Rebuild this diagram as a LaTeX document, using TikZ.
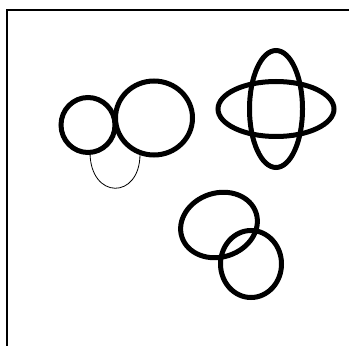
\documentclass[tikz,border=0pt]{standalone}
\tikzset{
  ring/.style={draw=black, line width=5pt},
  thinring/.style={draw=black, line width=0.8pt},
  frame/.style={draw=black, line width=1.2pt}
}
\begin{document}
\begin{tikzpicture}[x=1pt, y=-1pt]
  \useasboundingbox (0,0) rectangle (350,347);
  \coordinate (tl) at (7,10);
  \coordinate (tr) at (349,10);
  \coordinate (bl) at (7,346);
  \draw[frame] (tr) -- (tl) -- (bl);
  % left pair
  \coordinate (small) at (88,125);
  \coordinate (big) at (154,118);
  \draw[ring] (small) ellipse [x radius=27pt, y radius=27.5pt];
  \draw[ring] (big) ellipse [x radius=38.5pt, y radius=37pt];
  \coordinate (ua) at (90,152);
  \coordinate (ub) at (140,154);
  \draw[thinring] (ua) .. controls (90,200) and (140,200) .. (ub);
  % cross
  \coordinate (cross) at (276,109);
  \draw[ring] (cross) ellipse [x radius=58pt, y radius=27.5pt];
  \draw[ring] (cross) ellipse [x radius=26.5pt, y radius=58.5pt];
  % lower pair
  \coordinate (tilted) at (219,225);
  \coordinate (low) at (251,264);
  \begin{scope}[shift={(tilted)}, rotate=18]
    \draw[ring] (0,0) ellipse [x radius=39pt, y radius=32pt];
  \end{scope}
  \draw[ring] (low) ellipse [x radius=30.5pt, y radius=33.5pt];
\end{tikzpicture}
\end{document}
